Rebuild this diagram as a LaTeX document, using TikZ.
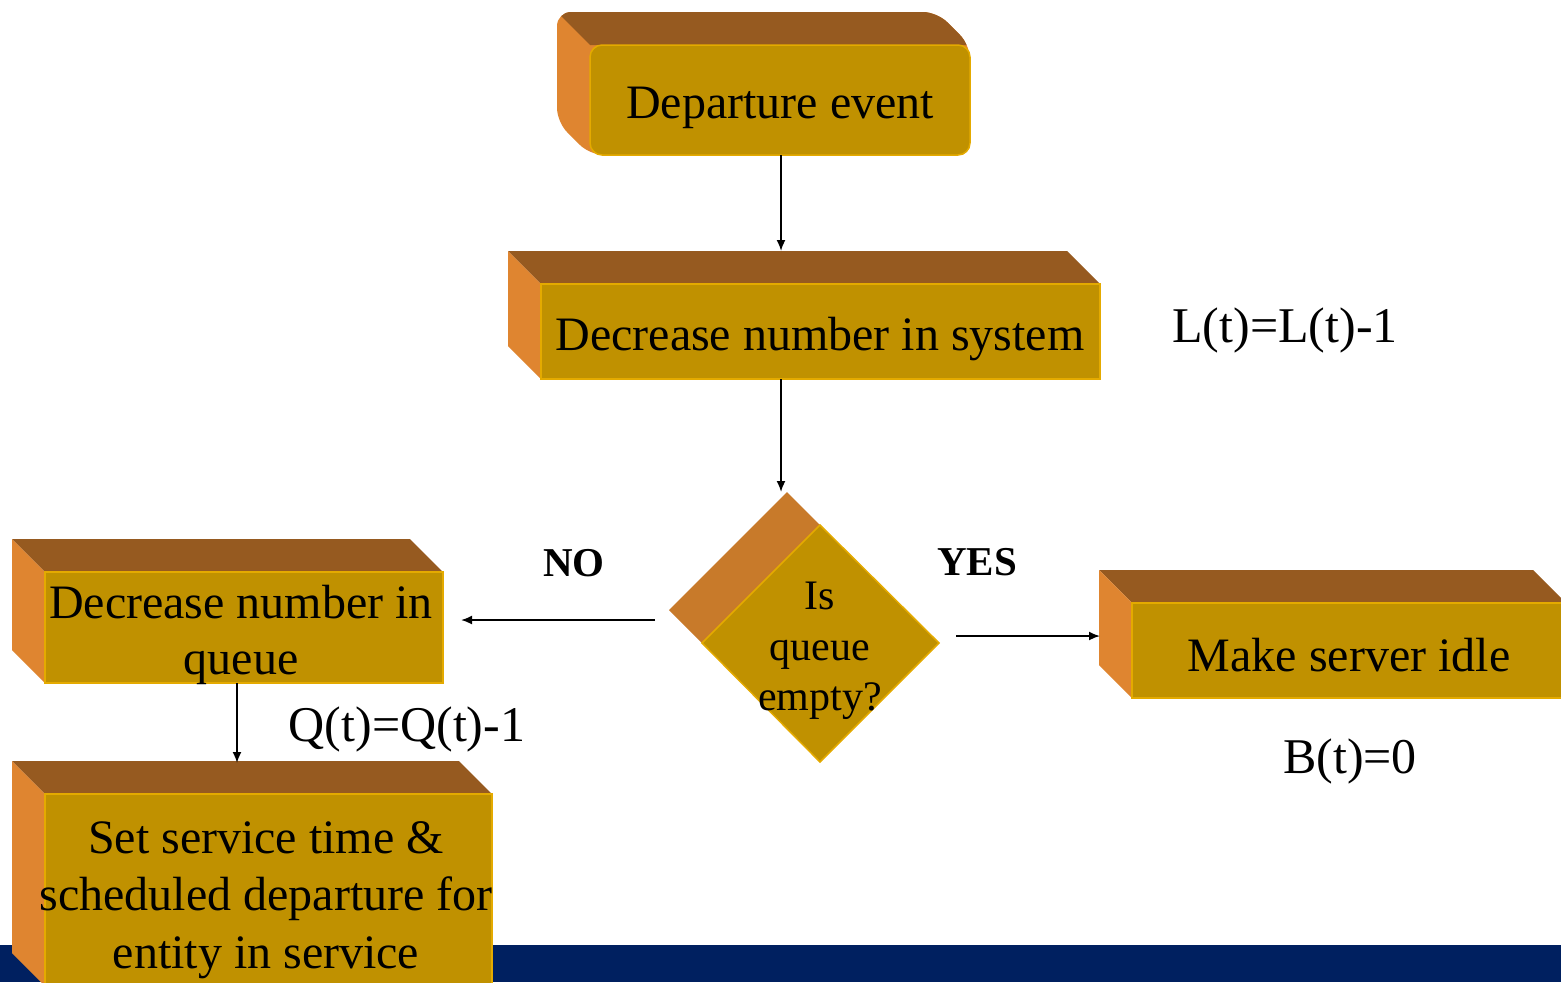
\documentclass[tikz,border=0pt]{standalone}
\usepackage{fontspec}
\setmainfont{Liberation Serif}
\usetikzlibrary{arrows.meta}
\definecolor{goldc}{RGB}{192,145,0}
\definecolor{topc}{RGB}{150,90,32}
\definecolor{leftc}{RGB}{223,133,48}
\definecolor{sidec}{RGB}{200,122,42}
\definecolor{edgec}{RGB}{228,170,0}
\definecolor{navyc}{RGB}{0,32,96}
\newcommand\mycube[4]{%
  \fill[topc] (#1,#2) -- ({#1-33},{#2-33}) -- ({#3-33},{#2-33}) -- (#3,#2) -- cycle;
  \fill[leftc] (#1,#2) -- ({#1-33},{#2-33}) -- ({#1-33},{#4-33}) -- (#1,#4) -- cycle;
  \filldraw[fill=goldc, draw=edgec, line width=0.75pt] (#1,#2) rectangle (#3,#4);
}
\begin{document}
\begin{tikzpicture}[x=0.5pt,y=-0.5pt,
  boxtext/.style={inner sep=0pt, font=\fontsize{24}{28.8}\selectfont, text=black},
  eqtext/.style={inner sep=0pt, font=\fontsize{25}{30}\selectfont},
  yntext/.style={inner sep=0pt, font=\fontsize{20.5}{24}\selectfont\bfseries},
  arr/.style={line width=0.9pt, -{Latex[length=5.5pt,width=4.5pt]}}]
\useasboundingbox (0,0) rectangle (1561,982);
\clip (0,0) rectangle (1561,982);
% bottom bar
\fill[navyc] (0,945) rectangle (1561,982);
% box 1 (rounded)
\begin{scope}
  \clip[rounded corners=7pt] (557,12) -- (937,12) -- (970,45) -- (970,155) -- (590,155) -- (557,122) -- cycle;
  \fill[leftc] (540,0) rectangle (980,170);
  \fill[topc] (590,45) -- (545,0) -- (980,0) -- (980,45) -- cycle;
\end{scope}
\filldraw[fill=goldc, draw=edgec, line width=0.75pt, rounded corners=6pt] (590,45) rectangle (970,155);
% other boxes
\mycube{541}{284}{1100}{379}
\mycube{45}{572}{443}{683}
\mycube{45}{794}{492}{986}
\mycube{1132}{603}{1566}{698}
% diamond
\fill[sidec] (787,492) -- (820,525) -- (702,643) -- (669,610) -- cycle;
\filldraw[fill=goldc, draw=edgec, line width=0.75pt] (820,525) -- (939,643) -- (820,762) -- (702,643) -- cycle;
% texts
\node[boxtext] (dep) at (780,108) {Departure event};
\node[boxtext] (sys) at (820,339) {Decrease number in system};
\node[boxtext, align=center, font=\fontsize{24}{28.3}\selectfont] (dq) at (241,635) {Decrease number in\\queue};
\node[boxtext, align=center, font=\fontsize{24}{28.8}\selectfont] (svc) at (266,900) {Set service time \&\\scheduled departure for\\entity in service};
\node[boxtext] (idle) at (1349,655) {Make server idle};
\node[inner sep=0pt, align=center, font=\fontsize{21}{25.25}\selectfont] (dia) at (820,651) {Is\\queue\\empty?};
\node[eqtext] (eqL) at (1285,330) {L(t)=L(t)-1};
\node[eqtext] (eqQ) at (407,729) {Q(t)=Q(t)-1};
\node[eqtext] (eqB) at (1350,761) {B(t)=0};
\node[yntext] (no) at (574,563) {NO};
\node[yntext] (yes) at (977,562) {YES};
% connector end points
\coordinate (a1s) at (781,155);
\coordinate (a1e) at (781,251);
\coordinate (a2s) at (781,379);
\coordinate (a2e) at (781,492);
\coordinate (nos) at (655,620);
\coordinate (noe) at (461,620);
\coordinate (yess) at (956,636);
\coordinate (yese) at (1100,636);
\coordinate (a5s) at (237,683);
\coordinate (a5e) at (237,763);
\draw[arr] (a1s) -- (a1e);
\draw[arr] (a2s) -- (a2e);
\draw[arr] (nos) -- (noe);
\draw[arr] (yess) -- (yese);
\draw[arr] (a5s) -- (a5e);
\end{tikzpicture}
\end{document}
